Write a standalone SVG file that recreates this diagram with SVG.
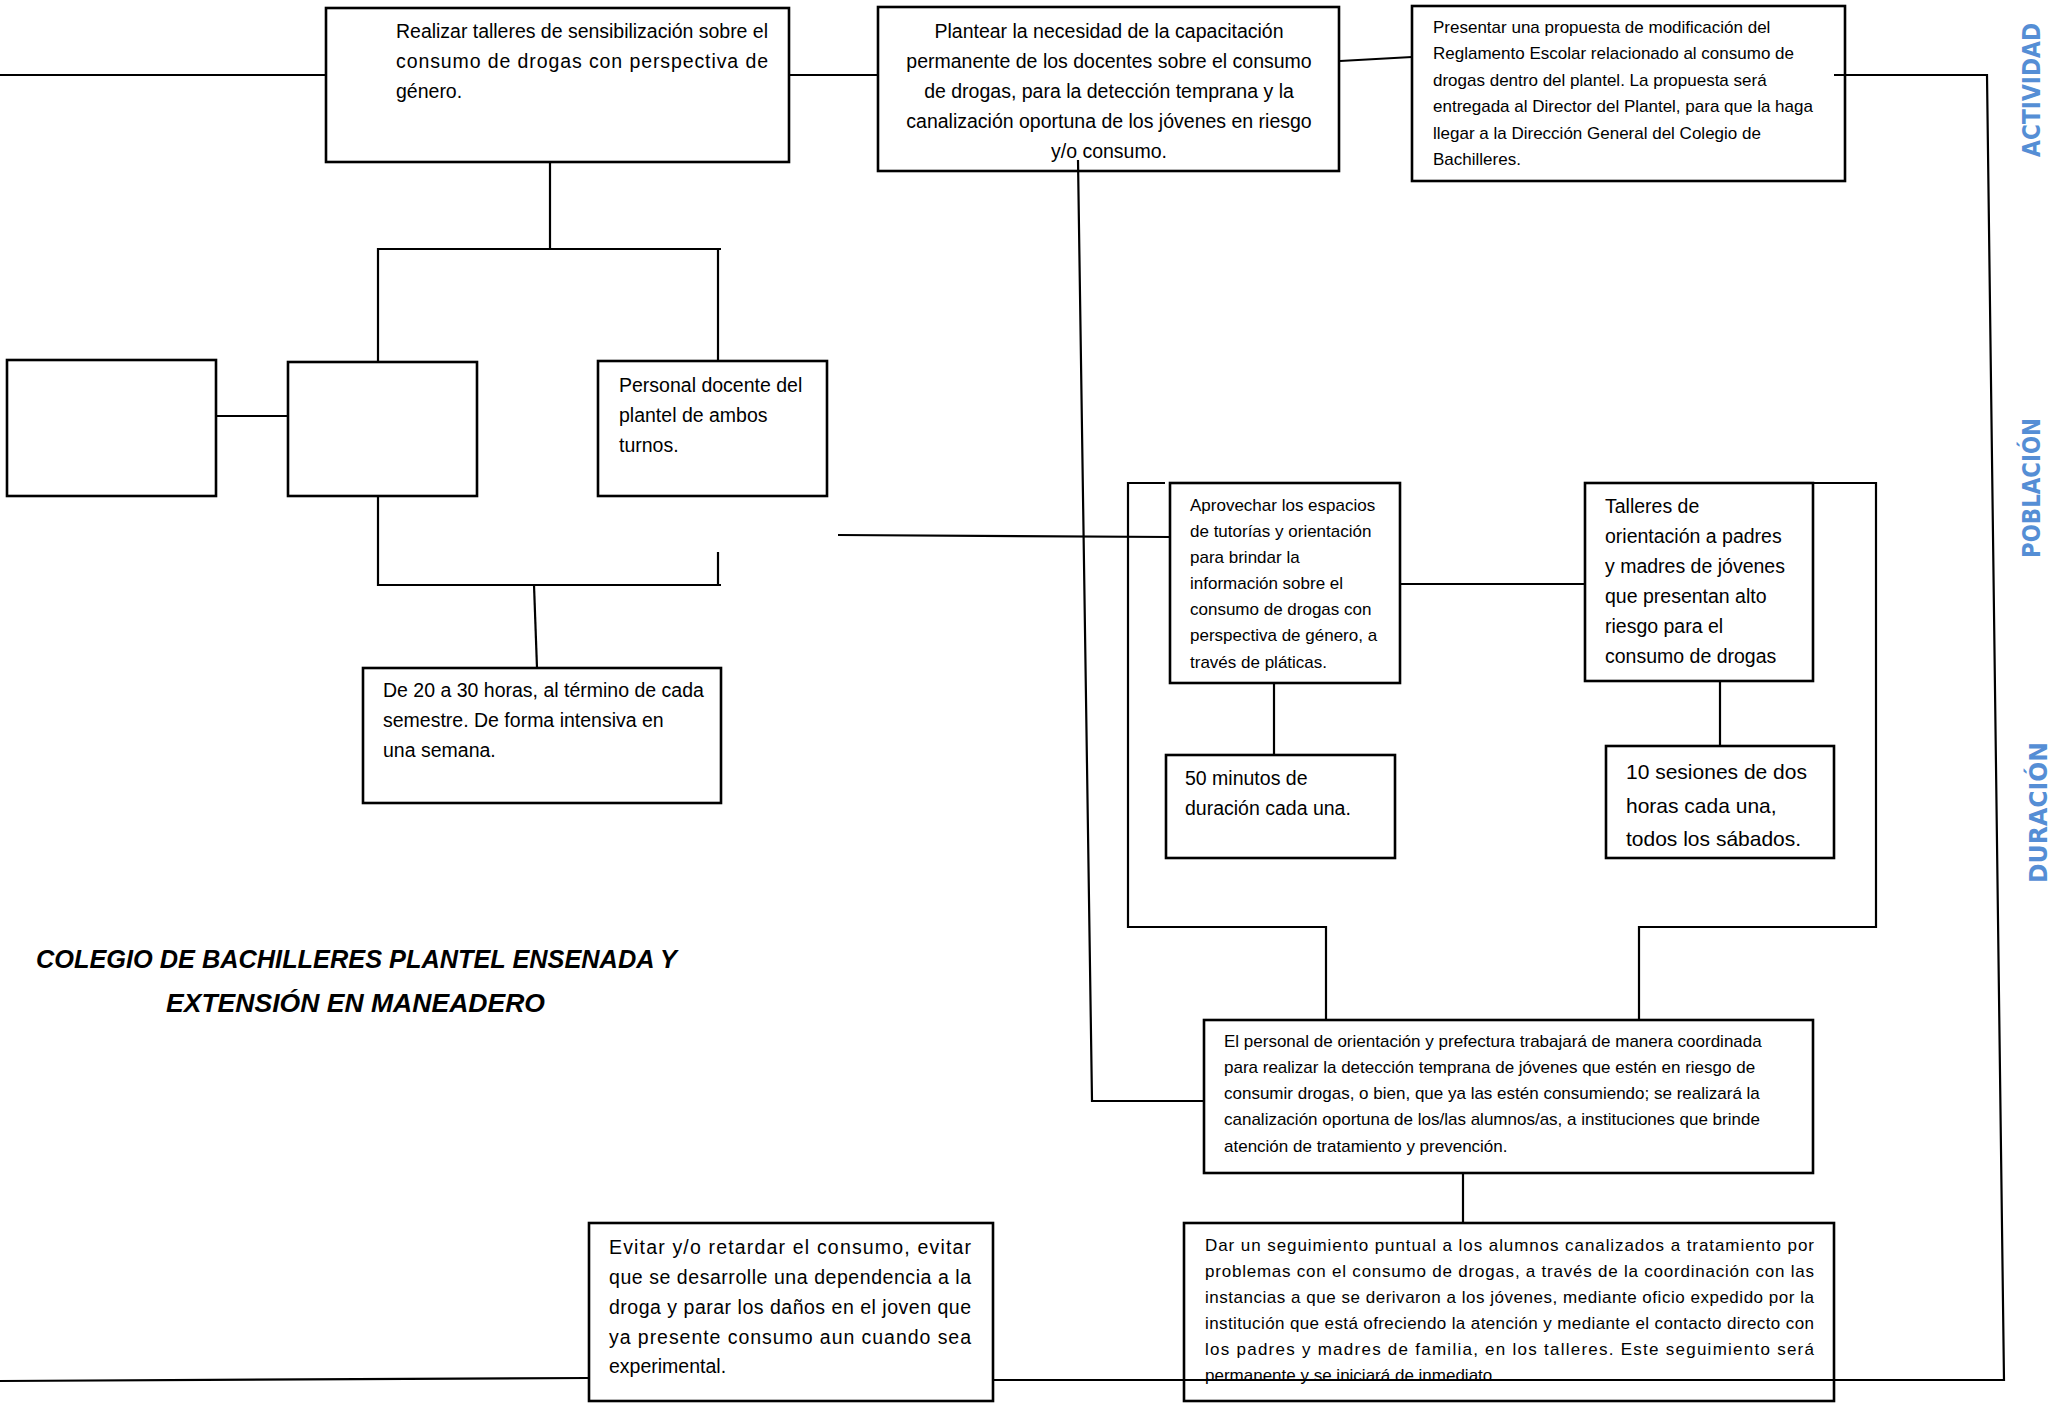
<svg xmlns="http://www.w3.org/2000/svg" width="2049" height="1403" viewBox="0 0 2049 1403">
<style>
.box{fill:#fff;stroke:#000;stroke-width:2.6}
.ln{fill:none;stroke:#000;stroke-width:2.2}
.t{font-family:"Liberation Sans",Arial,sans-serif;fill:#000}
.t195{font-size:19.5px}
.t17{font-size:17px}
.t21{font-size:21px}
.title{font-family:"Liberation Sans",Arial,sans-serif;font-weight:bold;font-style:italic;font-size:26px;fill:#000}
.side{font-family:"DejaVu Sans",Verdana,sans-serif;font-weight:bold;font-size:24px;fill:#558ED5}
</style>
<rect width="2049" height="1403" fill="#fff"/>
<g id="nodeA">
<rect class="box" x="326" y="8" width="463" height="154"/>
<text class="t t195" x="396" y="37.5" textLength="372" lengthAdjust="spacing">Realizar talleres de sensibilización sobre el</text>
<text class="t t195" x="396" y="67.5" textLength="372" lengthAdjust="spacing">consumo de drogas con perspectiva de</text>
<text class="t t195" x="396" y="97.5">género.</text>
</g>
<g id="nodeB">
<rect class="box" x="878" y="7" width="461" height="164"/>
<text class="t t195" text-anchor="middle" x="1109" y="37.5">Plantear la necesidad de la capacitación</text>
<text class="t t195" text-anchor="middle" x="1109" y="67.5">permanente de los docentes sobre el consumo</text>
<text class="t t195" text-anchor="middle" x="1109" y="97.5">de drogas, para la detección temprana y la</text>
<text class="t t195" text-anchor="middle" x="1109" y="127.5">canalización oportuna de los jóvenes en riesgo</text>
<text class="t t195" text-anchor="middle" x="1109" y="157.5">y/o consumo.</text>
</g>
<g id="nodeC">
<rect class="box" x="1412" y="6" width="433" height="175"/>
<text class="t t17" x="1433" y="32.5">Presentar una propuesta de modificación del</text>
<text class="t t17" x="1433" y="59">Reglamento Escolar relacionado al consumo de</text>
<text class="t t17" x="1433" y="85.5">drogas dentro del plantel.  La propuesta será</text>
<text class="t t17" x="1433" y="112">entregada al Director del Plantel, para que la haga</text>
<text class="t t17" x="1433" y="138.5">llegar a la Dirección General del Colegio de</text>
<text class="t t17" x="1433" y="165">Bachilleres.</text>
</g>
<g id="nodeD">
<rect class="box" x="7" y="360" width="209" height="136"/>
</g>
<g id="nodeE">
<rect class="box" x="288" y="362" width="189" height="134"/>
</g>
<g id="nodeF">
<rect class="box" x="598" y="361" width="229" height="135"/>
<text class="t t195" x="619" y="391.5">Personal docente del</text>
<text class="t t195" x="619" y="421.5">plantel de ambos</text>
<text class="t t195" x="619" y="451.5">turnos.</text>
</g>
<g id="nodeG">
<rect class="box" x="363" y="668" width="358" height="135"/>
<text class="t t195" x="383" y="697">De 20 a 30 horas, al término de cada</text>
<text class="t t195" x="383" y="727">semestre. De forma intensiva en</text>
<text class="t t195" x="383" y="757">una  semana.</text>
</g>
<g id="nodeH">
<rect class="box" x="1170" y="483" width="230" height="200"/>
<text class="t t17" x="1190" y="511">Aprovechar los espacios</text>
<text class="t t17" x="1190" y="537">de tutorías y orientación</text>
<text class="t t17" x="1190" y="563">para brindar la</text>
<text class="t t17" x="1190" y="589">información sobre el</text>
<text class="t t17" x="1190" y="615">consumo de drogas con</text>
<text class="t t17" x="1190" y="641">perspectiva de género, a</text>
<text class="t t17" x="1190" y="667.5">través de pláticas.</text>
</g>
<g id="nodeI">
<rect class="box" x="1585" y="483" width="228" height="198"/>
<text class="t t195" x="1605" y="513">Talleres  de</text>
<text class="t t195" x="1605" y="543">orientación a padres</text>
<text class="t t195" x="1605" y="573">y madres de jóvenes</text>
<text class="t t195" x="1605" y="603">que presentan alto</text>
<text class="t t195" x="1605" y="633">riesgo para el</text>
<text class="t t195" x="1605" y="663">consumo de drogas</text>
</g>
<g id="nodeJ">
<rect class="box" x="1166" y="755" width="229" height="103"/>
<text class="t t195" x="1185" y="785">50 minutos  de</text>
<text class="t t195" x="1185" y="815">duración cada una.</text>
</g>
<g id="nodeK">
<rect class="box" x="1606" y="746" width="228" height="112"/>
<text class="t t21" x="1626" y="779">10 sesiones de dos</text>
<text class="t t21" x="1626" y="813">horas cada una,</text>
<text class="t t21" x="1626" y="845.5">todos los sábados.</text>
</g>
<g id="nodeL">
<rect class="box" x="1204" y="1020" width="609" height="153"/>
<text class="t t17" x="1224" y="1046.5">El personal de orientación y prefectura trabajará de manera coordinada</text>
<text class="t t17" x="1224" y="1073">para realizar la detección temprana de jóvenes que estén en riesgo de</text>
<text class="t t17" x="1224" y="1099">consumir drogas, o bien, que ya las  estén consumiendo; se realizará la</text>
<text class="t t17" x="1224" y="1125">canalización oportuna  de los/las alumnos/as,  a instituciones que brinde</text>
<text class="t t17" x="1224" y="1152">atención de tratamiento y prevención.</text>
</g>
<g id="nodeM">
<rect class="box" x="1184" y="1223" width="650" height="178"/>
<text class="t t17" x="1205" y="1250.5" textLength="609" lengthAdjust="spacing">Dar un seguimiento puntual a los alumnos canalizados a tratamiento por</text>
<text class="t t17" x="1205" y="1276.5" textLength="609" lengthAdjust="spacing">problemas con el consumo de  drogas, a través de la coordinación con las</text>
<text class="t t17" x="1205" y="1302.5" textLength="609" lengthAdjust="spacing">instancias a que se derivaron a los jóvenes, mediante oficio  expedido por la</text>
<text class="t t17" x="1205" y="1329" textLength="609" lengthAdjust="spacing">institución que está ofreciendo la atención y mediante el contacto  directo con</text>
<text class="t t17" x="1205" y="1355" textLength="609" lengthAdjust="spacing">los padres y madres de familia, en los talleres. Este seguimiento será</text>
<text class="t t17" x="1205" y="1381">permanente y se iniciará de inmediato.</text>
</g>
<g id="nodeN">
<rect class="box" x="589" y="1223" width="404" height="178"/>
<text class="t t195" x="609" y="1254" textLength="362" lengthAdjust="spacing">Evitar y/o retardar el consumo, evitar</text>
<text class="t t195" x="609" y="1284" textLength="362" lengthAdjust="spacing">que se desarrolle una dependencia a la</text>
<text class="t t195" x="609" y="1314" textLength="362" lengthAdjust="spacing">droga  y parar los daños en el joven que</text>
<text class="t t195" x="609" y="1344" textLength="362" lengthAdjust="spacing">ya presente consumo aun cuando sea</text>
<text class="t t195" x="609" y="1373">experimental.</text>
</g>
<g id="connectors">
<line class="ln" x1="0" y1="75" x2="327" y2="75"/>
<line class="ln" x1="789" y1="75" x2="878" y2="75"/>
<line class="ln" x1="1340" y1="61" x2="1412" y2="57"/>
<polyline class="ln" points="1834,75 1987,75 2004,1380 993,1380"/>
<line class="ln" x1="0" y1="1381" x2="589" y2="1378"/>
<line class="ln" x1="550" y1="162" x2="550" y2="249"/>
<polyline class="ln" points="378,361 378,249 721,249"/>
<line class="ln" x1="718" y1="249" x2="718" y2="361"/>
<line class="ln" x1="216" y1="416" x2="288" y2="416"/>
<polyline class="ln" points="378,496 378,585 721,585"/>
<line class="ln" x1="718" y1="552" x2="718" y2="585"/>
<line class="ln" x1="534" y1="585" x2="537" y2="668"/>
<line class="ln" x1="838" y1="535" x2="1170" y2="537"/>
<polyline class="ln" points="1078,160 1092,1101 1204,1101"/>
<polyline class="ln" points="1165,483 1128,483 1128,927 1326,927 1326,1020"/>
<polyline class="ln" points="1813,483 1876,483 1876,927 1639,927 1639,1020"/>
<line class="ln" x1="1400" y1="584" x2="1585" y2="584"/>
<line class="ln" x1="1274" y1="683" x2="1274" y2="755"/>
<line class="ln" x1="1720" y1="681" x2="1720" y2="746"/>
<line class="ln" x1="1463" y1="1173" x2="1463" y2="1223"/>
</g>
<g id="title">
<text class="title" x="36" y="968" textLength="641" lengthAdjust="spacingAndGlyphs">COLEGIO DE BACHILLERES PLANTEL ENSENADA Y</text>
<text class="title" x="166" y="1012" textLength="379" lengthAdjust="spacingAndGlyphs">EXTENSIÓN EN MANEADERO</text>
</g>
<g id="labels">
<text class="side" transform="translate(2040,157) rotate(-90)" textLength="134" lengthAdjust="spacingAndGlyphs">ACTIVIDAD</text>
<text class="side" transform="translate(2040,558) rotate(-90)" textLength="140" lengthAdjust="spacingAndGlyphs">POBLACIÓN</text>
<text class="side" transform="translate(2047,883) rotate(-90)" textLength="141" lengthAdjust="spacingAndGlyphs">DURACIÓN</text>
</g>
</svg>
